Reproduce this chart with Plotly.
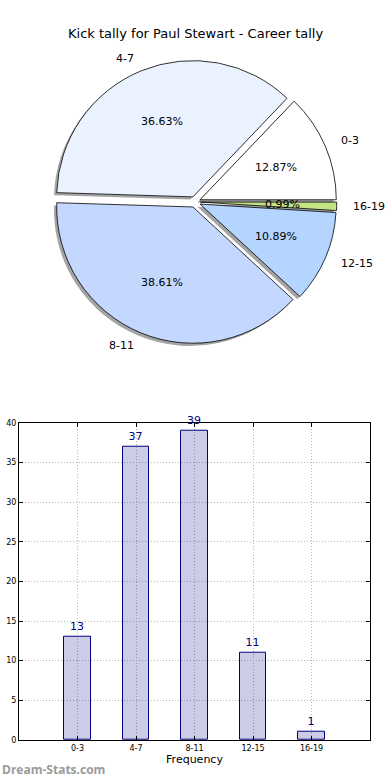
import math
import plotly.graph_objects as go

# ---------------- data ----------------
categories = ["0-3", "4-7", "8-11", "12-15", "16-19"]
counts = [13, 37, 39, 11, 1]
slice_colors = ["#FFFFFF", "#EAF2FF", "#C4D8FF", "#B3D5FF", "#C4E484"]
title_text = "Kick tally for Paul Stewart - Career tally"
y_ticks = [0, 5, 10, 15, 20, 25, 30, 35, 40]
x_title = "Frequency"
watermark = "Dream-Stats.com"

# ---------------- layout geometry (pixels) ----------------
W, H = 390, 780
ML, MR, MT, MB = 19, 20, 0, 40
PW, PH = W - ML - MR, H - MT - MB

def px_to_paper(px, py):
    return (px - ML) / PW, (H - MB - py) / PH

pie_cx, pie_cy, pie_r = 195, 199, 137
pull = 0.04
box = pie_r * (2 + 2 * pull)
dx0, dy1 = px_to_paper(pie_cx - box / 2, pie_cy - box / 2)
dx1, dy0 = px_to_paper(pie_cx + box / 2, pie_cy + box / 2)

sh = 2.7  # shadow offset px
sdx0, sdy1 = px_to_paper(pie_cx - sh - box / 2, pie_cy + sh - box / 2)
sdx1, sdy0 = px_to_paper(pie_cx - sh + box / 2, pie_cy + sh + box / 2)

total = sum(counts)
# plotly (counterclockwise) ends the first slice at `rotation`; shift so it starts at 3 o'clock
rot = 90 - 360.0 * counts[0] / total

fig = go.Figure()

# shadow
fig.add_trace(go.Pie(
    values=counts, labels=categories, sort=False, direction="counterclockwise",
    rotation=rot, pull=[pull] * len(counts), textinfo="none", hoverinfo="skip",
    marker=dict(colors=["rgba(90,90,90,0.55)"] * len(counts), line=dict(width=0)),
    domain=dict(x=[sdx0, sdx1], y=[sdy0, sdy1]), showlegend=False,
))
# pie
fig.add_trace(go.Pie(
    values=counts, labels=categories, sort=False, direction="counterclockwise",
    rotation=rot, pull=[pull] * len(counts), textinfo="none",
    marker=dict(colors=slice_colors, line=dict(color="black", width=0.8)),
    domain=dict(x=[dx0, dx1], y=[dy0, dy1]), showlegend=False,
))

annotations = []
cum = 0
font_fam = "DejaVu Sans"
for lab, v in zip(categories, counts):
    th = 2 * math.pi * (cum + v / 2) / total
    cum += v
    c, s = math.cos(th), math.sin(th)
    ox, oy = pull * pie_r * c, pull * pie_r * s
    # label at 1.1 r
    lx = pie_cx + ox + 1.1 * pie_r * c
    ly = pie_cy - oy - 1.1 * pie_r * s
    ax_, ay_ = px_to_paper(lx, ly)
    annotations.append(dict(x=ax_, y=ay_, xref="paper", yref="paper", text=lab,
                            showarrow=False, xanchor="left" if c > 0 else "right",
                            yanchor="middle", font=dict(family=font_fam, size=11, color="black")))
    # percent at 0.6 r
    tx = pie_cx + ox + 0.6 * pie_r * c
    ty = pie_cy - oy - 0.6 * pie_r * s
    bx_, by_ = px_to_paper(tx, ty)
    annotations.append(dict(x=bx_, y=by_, xref="paper", yref="paper",
                            text="%.2f%%" % (100.0 * v / total),
                            showarrow=False, xanchor="center", yanchor="middle",
                            font=dict(family=font_fam, size=11, color="black")))

# title
tx_, ty_ = px_to_paper(195, 30)
annotations.append(dict(x=tx_, y=ty_, xref="paper", yref="paper", text=title_text,
                        showarrow=False, xanchor="center", yanchor="middle",
                        font=dict(family=font_fam, size=13, color="black")))
# watermark
wx_, wy_ = px_to_paper(0, 770)
annotations.append(dict(x=wx_, y=wy_, xref="paper", yref="paper", text="<b>" + watermark + "</b>",
                        showarrow=False, xanchor="left", yanchor="middle",
                        font=dict(family="Open Sans", size=12, color="#9a9a9a")))

# ---------------- bar chart ----------------
xpos = list(range(len(categories)))
fig.add_trace(go.Bar(
    x=xpos, y=counts, width=0.45, text=[str(c) for c in counts],
    textposition="outside", cliponaxis=False, constraintext="none",
    textfont=dict(family=font_fam, size=11, color="navy"),
    marker=dict(color="rgba(0,0,128,0.2)", line=dict(color="navy", width=1)),
    showlegend=False, xaxis="x", yaxis="y",
))

_, ytop = px_to_paper(0, 421)
grid_col = "#b8b8b8"
fig.update_layout(
    width=W, height=H,
    margin=dict(l=ML, r=MR, t=MT, b=MB),
    paper_bgcolor="white", plot_bgcolor="white",
    annotations=annotations,
    xaxis=dict(domain=[0, 1], range=[-1, 5], tickmode="array", tickvals=xpos,
               ticktext=categories, showline=True, linecolor="black", linewidth=1,
               mirror="allticks", ticks="inside", ticklen=4, tickcolor="black",
               showgrid=True, gridcolor=grid_col, griddash="1px,2px", gridwidth=1,
               zeroline=False, tickfont=dict(family=font_fam, size=8, color="black"),
               title=dict(text=x_title, font=dict(family=font_fam, size=11, color="black"),
                          standoff=3)),
    yaxis=dict(domain=[0, ytop], range=[0, 40], tickmode="array", tickvals=y_ticks,
               showline=True, linecolor="black", linewidth=1, mirror="allticks",
               ticks="inside", ticklen=4, tickcolor="black",
               showgrid=True, gridcolor=grid_col, griddash="1px,2px", gridwidth=1,
               zeroline=False, tickfont=dict(family=font_fam, size=8, color="black")),
    font=dict(family=font_fam),
    bargap=0,
)

fig.write_html("out.html", config={"displayModeBar": False},
               post_script="document.body.style.margin='0';")
